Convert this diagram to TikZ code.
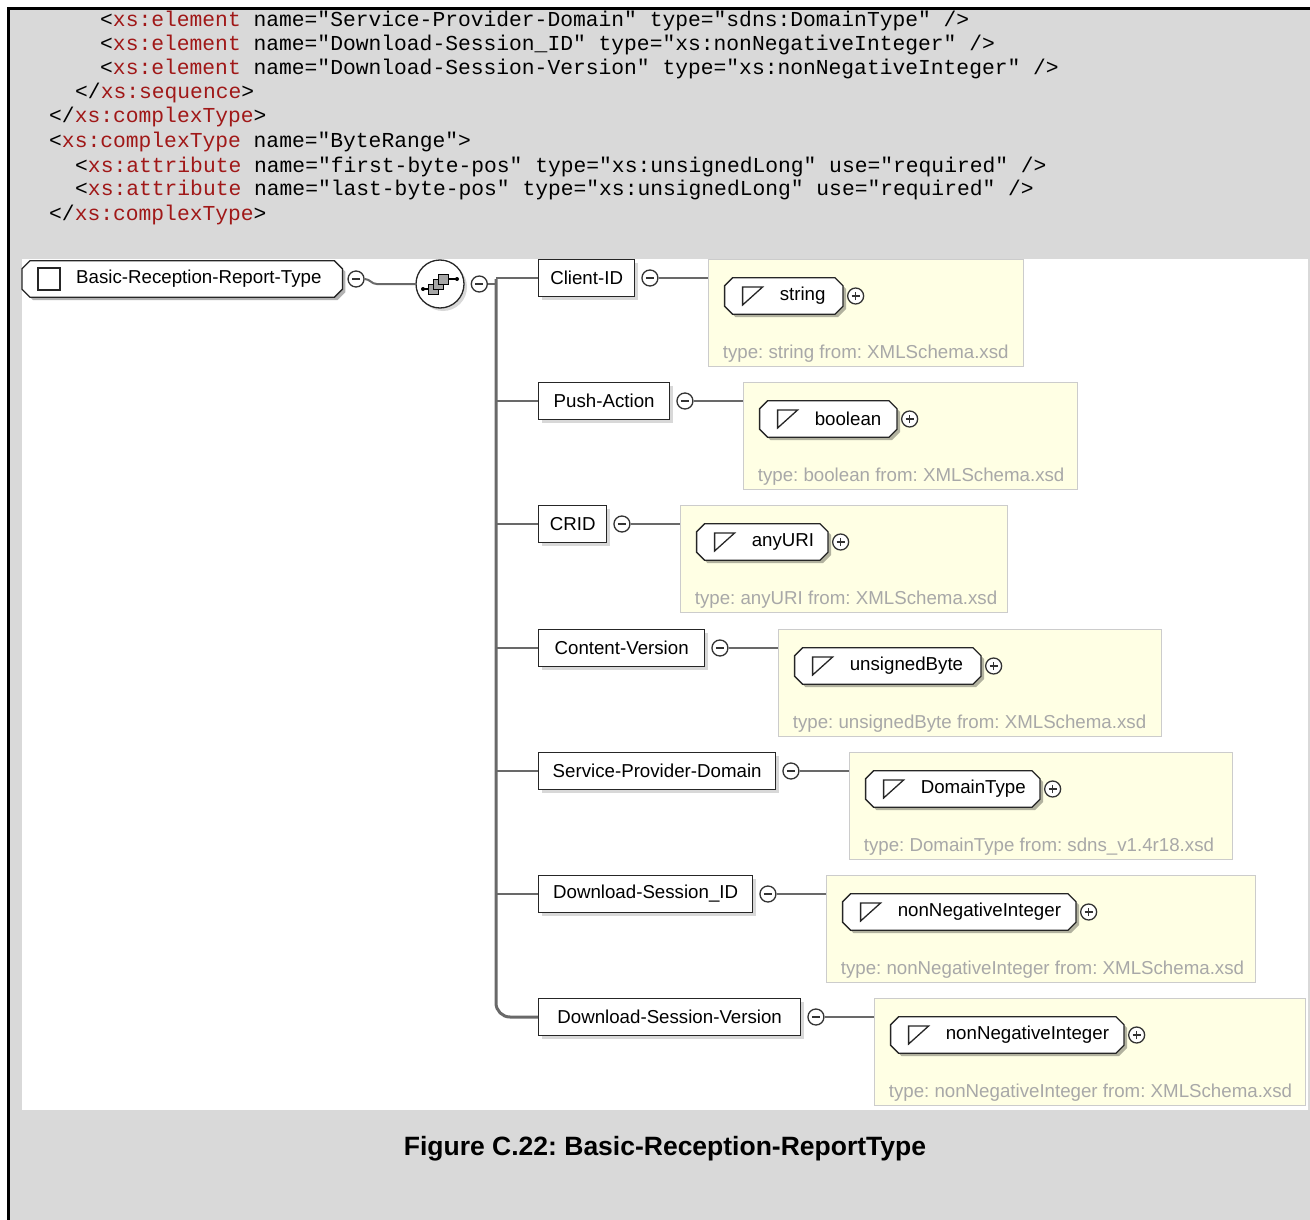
\documentclass[tikz,border=0pt]{standalone}
\usepackage{fontspec}
\setmainfont{Liberation Sans}
\setmonofont{Liberation Mono}
\usetikzlibrary{shadows,calc,positioning}
\definecolor{pagegray}{RGB}{217,217,217}
\definecolor{xsred}{RGB}{160,24,24}
\definecolor{noteyellow}{RGB}{255,255,228}
\definecolor{noteborder}{RGB}{204,204,204}
\definecolor{notetext}{RGB}{168,168,168}
\definecolor{linegray}{RGB}{105,105,105}
\newcommand{\xsr}[1]{\textcolor{xsred}{#1}}
% octagonal (chamfered) outline round a named node, shifted by #2
\newcommand{\octpath}[2]{($(#1.north west)+(8+#2,#2)$) -- ($(#1.north east)+(-8+#2,#2)$) -- ($(#1.north east)+(#2,8+#2)$) -- ($(#1.south east)+(#2,-8+#2)$) -- ($(#1.south east)+(-8+#2,#2)$) -- ($(#1.south west)+(8+#2,#2)$) -- ($(#1.south west)+(#2,-8+#2)$) -- ($(#1.north west)+(#2,8+#2)$) -- cycle}
\begin{document}
\frenchspacing
\begin{tikzpicture}[x=1pt,y=-1pt,
  codeline/.style={anchor=base west, inner sep=0, font=\fontsize{21.3}{24}\ttfamily},
  sans/.style={font=\fontsize{18.7}{22}\selectfont},
  shade box/.style={drop shadow={shadow xshift=3pt,shadow yshift=-3pt,opacity=.3}},
  elbox/.style={sans, draw=black!85, line width=1.3pt, fill=white, minimum height=37pt, inner sep=0, shade box},
  octspace/.style={rectangle, draw=none, fill=none, minimum height=36pt, inner sep=0},
  octframe/.style={draw=black!85, line width=1.3pt, fill=white},
  octshadow/.style={fill=black, opacity=.3},
  minus/.style={circle, draw=black!80, line width=1.3pt, fill=white, minimum size=16pt, inner sep=0,
    path picture={\draw[line width=1.3pt] ([xshift=-4pt]path picture bounding box.center) -- ([xshift=4pt]path picture bounding box.center);}},
  plus/.style={circle, draw=black!80, line width=1.3pt, fill=white, minimum size=16pt, inner sep=0,
    path picture={\draw[line width=1.3pt] ([xshift=-4pt]path picture bounding box.center) -- ([xshift=4pt]path picture bounding box.center)
      ([yshift=-4pt]path picture bounding box.center) -- ([yshift=4pt]path picture bounding box.center);}},
  notebox/.style={draw=noteborder, line width=1.2pt, fill=noteyellow, minimum height=107pt, inner sep=0, anchor=north west},
  notetxt/.style={sans, text=notetext, anchor=west, inner sep=0},
  conn/.style={draw=linegray, line width=2pt},
  bus/.style={draw=linegray, line width=3pt},
  icon/.style={draw=black!85, line width=1.3pt, line join=miter}
]
\useasboundingbox (0,0) rectangle (1310,1220);
% page
\fill[pagegray] (8,9) rectangle (1310,1220);
\draw[line width=3pt] (8,1220) -- (8,9) -- (1310,9);
\fill[white] (22,259) rectangle (1308,1110);

% code listing
\node[codeline] (c1) at (100,27) {<\xsr{xs:element} name="Service-Provider-Domain" type="sdns:DomainType" />};
\node[codeline] (c2) at (100,51) {<\xsr{xs:element} name="Download-Session\_ID" type="xs:nonNegativeInteger" />};
\node[codeline] (c3) at (100,75) {<\xsr{xs:element} name="Download-Session-Version" type="xs:nonNegativeInteger" />};
\node[codeline] (c4) at (75,99) {</\xsr{xs:sequence}>};
\node[codeline] (c5) at (49,123) {</\xsr{xs:complexType}>};
\node[codeline] (c6) at (49,148) {<\xsr{xs:complexType} name="ByteRange">};
\node[codeline] (c7) at (75,172) {<\xsr{xs:attribute} name="first-byte-pos" type="xs:unsignedLong" use="required" />};
\node[codeline] (c8) at (75,196) {<\xsr{xs:attribute} name="last-byte-pos" type="xs:unsignedLong" use="required" />};
\node[codeline] (c9) at (49,220) {</\xsr{xs:complexType}>};

% root element
\node[octspace, minimum width=320pt, anchor=west] (r) at (22,279) {};
\fill[octshadow] \octpath{r}{3};
\draw[octframe] \octpath{r}{0};
\node[draw=black!85, line width=1.3pt, minimum size=22pt, inner sep=0] (rc) at (49,279) {};
\node[sans, anchor=west, inner sep=0] (rt) at (76,279) {Basic-Reception-Report-Type};
\node[minus, right=5pt of r] (m0) {};

% sequence compositor
\node[circle, draw=black!85, line width=1.3pt, fill=white, minimum size=48pt, inner sep=0, shade box] (seq) at (440,284) {};
\begin{scope}[shift={(seq.center)}]
  \draw[line width=1.2pt] (-17,5) -- (-10,5);
  \draw[line width=1.2pt] (8,-5) -- (17,-5);
  \fill (-17,5) circle (2pt);
  \fill (17,-5) circle (2pt);
  \draw[fill=black!35, line width=0.9pt] (-12,0) rectangle (-2,10);
  \draw[fill=black!35, line width=0.9pt] (-7,-5) rectangle (3,5);
  \draw[fill=black!35, line width=0.9pt] (-2,-10) rectangle (8,0);
\end{scope}
\node[minus, right=6pt of seq] (ms) {};
\draw[conn] (m0.east) to[out=0,in=180] ($(m0.east)+(12,5)$) -- (seq.west);

% children
\foreach \i/\cy/\ew/\ename/\yw/\tw/\tname/\src in {
  1/278/96/Client-ID/315/118/string/XMLSchema.xsd,
  2/401/131/Push-Action/334/137/boolean/XMLSchema.xsd,
  3/524/68/CRID/327/131/anyURI/XMLSchema.xsd,
  4/648/166/Content-Version/383/186/unsignedByte/XMLSchema.xsd,
  5/771/237/Service-Provider-Domain/383/174/DomainType/sdns\_v1.4r18.xsd,
  6/894/214/Download-Session\_ID/429/233/nonNegativeInteger/XMLSchema.xsd,
  7/1017/262/Download-Session-Version/431/233/nonNegativeInteger/XMLSchema.xsd}{
  \node[elbox, minimum width=\ew pt, anchor=west] (e\i) at (538,\cy) {\ename};
  \node[minus, right=6pt of e\i] (m\i) {};
  \node[notebox, minimum width=\yw pt] (y\i) at ($(m\i.east)+(49,-19)$) {};
  \draw[conn] (m\i.east) -- (m\i.east -| y\i.west);
  \node[octspace, minimum width=\tw pt, anchor=west] (t\i) at ($(y\i.north west)+(17,37)$) {};
  \fill[octshadow] \octpath{t\i}{3};
  \draw[octframe] \octpath{t\i}{0};
  \node[sans, anchor=west, inner sep=0] (tt\i) at ($(t\i.west)+(55,0)$) {\tname};
  \draw[icon] ($(t\i.west)+(18,-9)$) -- ++(20,0) -- ++(-20,18) -- cycle;
  \node[plus, right=4pt of t\i] (p\i) {};
  \node[notetxt] (n\i) at ($(y\i.north west)+(15,95)$) {type: \tname{} from: \src};
}

% sequence bus
\coordinate (bustop) at (496,279);
\draw[conn] (ms.east) -- (ms.east -| bustop);
\draw[bus, rounded corners=14pt] (bustop) |- (e7.west);
\foreach \i in {1,...,6}{
  \draw[conn] (e\i.west -| bustop) -- (e\i.west);
}

% caption
\node[font=\fontsize{26.5}{30}\bfseries\selectfont] (cap) at (665,1149) {Figure C.22: Basic-Reception-ReportType};
\end{tikzpicture}
\end{document}
